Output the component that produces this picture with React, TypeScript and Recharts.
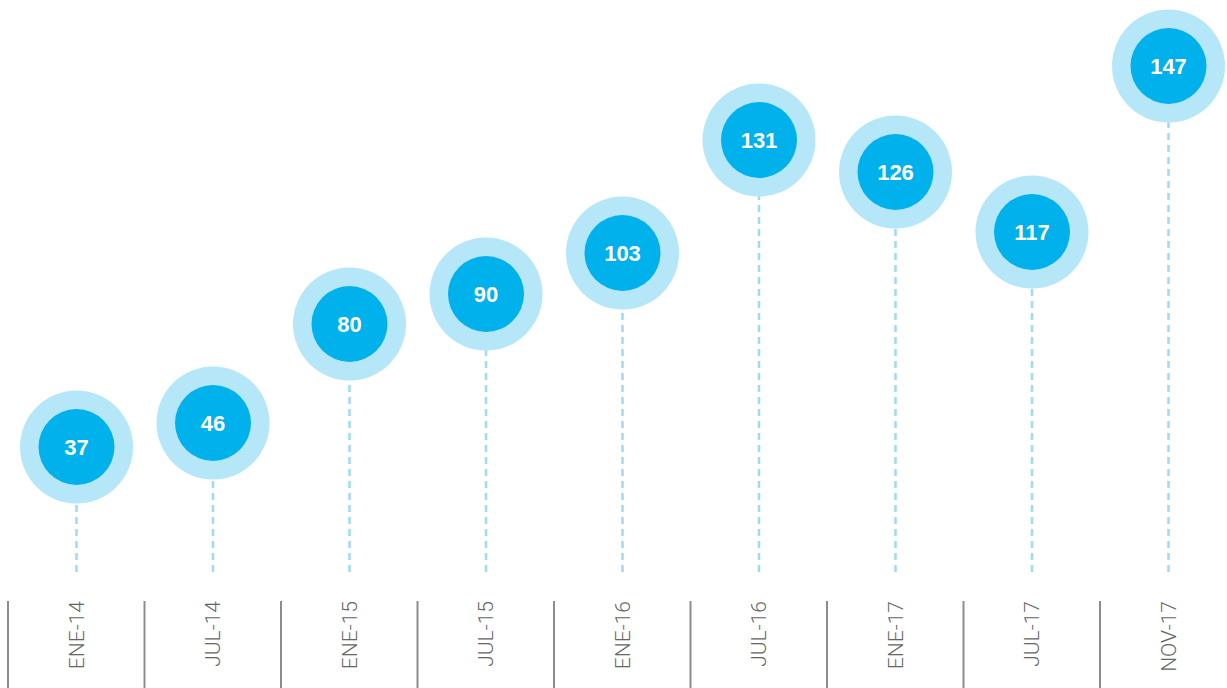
import { ComposedChart, Bar, XAxis, YAxis } from 'recharts'

const periods = ['ENE-14', 'JUL-14', 'ENE-15', 'JUL-15', 'ENE-16', 'JUL-16', 'ENE-17', 'JUL-17', 'NOV-17']
const counts = [37, 46, 80, 90, 103, 131, 126, 117, 147]
// visual height of each bubble above the baseline (not proportional to count)
const levels = [125, 149, 248, 278, 319, 432, 400, 340, 506]

const data = periods.map((period, i) => ({ period, count: counts[i], level: levels[i] }))

const OUTER = '#b5e7f9'
const INNER = '#00b1eb'
const STEM = '#9fdbf5'

function Bubble(props: any) {
  const { x, y, width, height, payload } = props
  const cx = x + width / 2
  const base = y + height
  return (
    <g>
      <line x1={cx} x2={cx} y1={base} y2={y + 56} stroke={STEM} strokeWidth={2.5} strokeDasharray="7 5" />
      <circle cx={cx} cy={y} r={56.5} fill={OUTER} />
      <circle cx={cx} cy={y} r={38} fill={INNER} />
      <text
        x={cx}
        y={y}
        dy="0.36em"
        textAnchor="middle"
        fill="#fff"
        fontFamily="Liberation Sans, Arial, sans-serif"
        fontWeight={700}
        fontSize={22}
      >
        {payload.count}
      </text>
    </g>
  )
}

function PeriodTick(props: any) {
  const { x, payload } = props
  const half = payload?.offset ?? 68.25
  const top = 601
  return (
    <g>
      <line x1={x - half} x2={x - half} y1={top} y2={688} stroke="#8c8c8c" strokeWidth={2} />
      <text
        x={x}
        y={top}
        dy="0.35em"
        transform={`rotate(-90 ${x} ${top})`}
        textAnchor="end"
        fill="#666"
        fontFamily="Roboto, sans-serif"
        fontWeight={300}
        fontSize={21}
      >
        {payload.value}
      </text>
    </g>
  )
}

export default function App() {
  return (
    <div style={{ position: 'absolute', left: 0, top: 0, width: 1227, height: 688, overflow: 'hidden', background: '#fff' }}>
      <ComposedChart
        width={1245}
        height={688}
        data={data}
        margin={{ top: 0, right: 8.5, bottom: 0, left: 8 }}
        barCategoryGap={0}
      >
        <XAxis
          dataKey="period"
          height={116}
          axisLine={false}
          tickLine={false}
          interval={0}
          tick={<PeriodTick />}
        />
        <YAxis hide domain={[0, 572]} />
        <Bar dataKey="level" shape={<Bubble />} isAnimationActive={false} />
      </ComposedChart>
    </div>
  )
}
